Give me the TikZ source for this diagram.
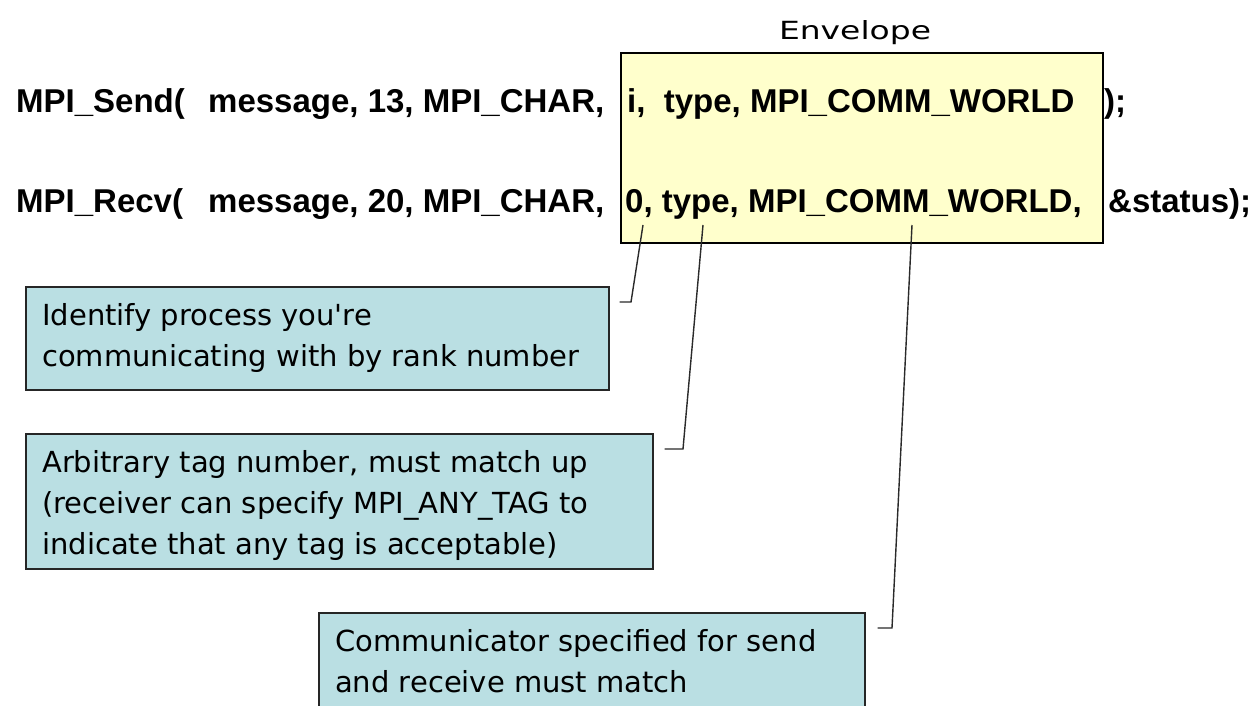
\documentclass[tikz,border=0pt]{standalone}
\usepackage{fontspec}
\setmainfont{Liberation Sans}
\newfontfamily\notefont{DejaVu Sans}
\usetikzlibrary{calc}
\definecolor{envfill}{HTML}{FFFFCC}
\definecolor{notefill}{HTML}{BADFE3}
\definecolor{leadgray}{HTML}{2A2A2A}
\tikzset{
  code/.style={anchor=base west, inner sep=0pt, font=\fontsize{33}{40}\selectfont\bfseries},
  envbox/.style={draw=black, line width=1.6pt, fill=envfill, anchor=north west, inner sep=0pt},
  notebox/.style={draw=black!85, line width=1.6pt, fill=notefill, anchor=north west, inner sep=0pt},
  notetext/.style={anchor=north west, inner sep=0pt, align=left, font=\notefont\fontsize{29}{41}\selectfont},
  leader/.style={draw=leadgray, line width=1.4pt}
}
\begin{document}
\begin{tikzpicture}[x=1pt, y=-1pt]
\useasboundingbox[fill=white] (0,0) rectangle (1253,706);

% envelope frame and caption
\node[envbox, minimum width=482pt, minimum height=190pt] (env) at (620,52) {};
\node[anchor=base, inner sep=0pt] (envlabel) at (855,40)
  {\resizebox{152pt}{\height}{\notefont\fontsize{25}{28}\selectfont Envelope}};

% send call
\node[code] (sendname) at (16,113) {MPI\_Send(};
\node[code] (sendbuf)  at (208,113) {message, 13, MPI\_CHAR,};
\node[code] (sendenv)  at (627,113) {i,\ \ type, MPI\_COMM\_WORLD};
\node[code] (sendend)  at (1104,113) {);};

% receive call
\node[code] (recvname) at (16,212) {MPI\_Recv(};
\node[code] (recvbuf)  at (208,212) {message, 20, MPI\_CHAR,};
\node[code] (recvenv)  at (625,212) {0, type, MPI\_COMM\_WORLD,};
\node[code] (recvend)  at (1108,212) {\&status);};

% explanation boxes (y grows downwards here)
\node[notebox, minimum width=583pt, minimum height=103pt] (rank) at (25,286) {};
\node[notetext] (ranktxt) at ($(rank.north west)+(17,17)$)
  {Identify process you're\\communicating with by rank number};

\node[notebox, minimum width=627pt, minimum height=135pt] (tag) at (25,433) {};
\node[notetext] (tagtxt) at ($(tag.north west)+(17,17)$)
  {Arbitrary tag number, must match up\\(receiver can specify MPI\_ANY\_TAG to\\indicate that any tag is acceptable)};

\node[notebox, minimum width=546pt, minimum height=110pt] (comm) at (318,612) {};
\node[notetext] (commtxt) at ($(comm.north west)+(17,17)$)
  {Communicator specified for send\\and receive must match};

% leader lines from the envelope arguments to their notes
\coordinate (rankarg) at (643,225);
\coordinate (tagarg)  at (703,225);
\coordinate (commarg) at (912,225);
\draw[leader] (rankarg) -- (631,302) -- ($(rank.north east)+(10,16)$);
\draw[leader] (tagarg)  -- (683,449) -- ($(tag.north east)+(11,16)$);
\draw[leader] (commarg) -- (892,628) -- ($(comm.north east)+(12,16)$);
\end{tikzpicture}
\end{document}
